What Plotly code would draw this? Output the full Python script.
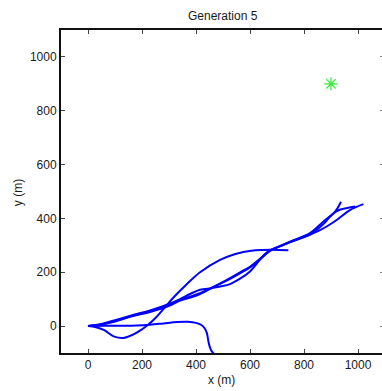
import plotly.graph_objects as go

# Trajectories of the current generation (metres)
path1_x = [0, 30, 60, 95, 131, 168, 200, 217, 250, 285, 320, 360, 415, 489, 540, 575, 620, 680, 742]
path1_y = [0, -4, -15, -38, -44, -31, -12, 0, 30, 70, 110, 150, 200, 246, 266, 275, 282, 284, 282]

path2_x = [0, 60, 120, 180, 230, 280, 330, 370, 400, 420, 432, 440, 444, 447, 452, 458, 468, 480]
path2_y = [0, 1, 1, 2, 5, 10, 15, 16, 12, 4, -8, -25, -45, -62, -80, -93, -105, -120]

path3_x = [0, 50, 100, 170, 230, 300, 341, 380, 415, 458, 490, 526, 563, 600, 625, 650, 674, 710, 750, 810, 850, 884, 921, 970, 1020]
path3_y = [0, 8, 22, 42, 58, 82, 100, 120, 135, 141, 147, 156, 176, 203, 232, 262, 282, 296, 312, 335, 352, 370, 394, 431, 453]

path4_x = [0, 50, 100, 170, 230, 300, 341, 380, 415, 458, 526, 563, 600, 637, 674, 710, 750, 822, 871, 915, 937]
path4_y = [0, 6, 17, 38, 52, 75, 95, 106, 119, 141, 178, 200, 220, 250, 280, 297, 315, 345, 388, 425, 462]

path5_x = [0, 50, 100, 170, 230, 300, 341, 380, 415, 458, 526, 563, 600, 637, 674, 710, 750, 822, 871, 895, 915, 935, 960, 990]
path5_y = [0, 7, 19, 40, 55, 78, 98, 110, 122, 143, 175, 196, 218, 248, 279, 296, 313, 340, 378, 405, 423, 433, 439, 444]

paths = [(path1_x, path1_y), (path2_x, path2_y), (path3_x, path3_y),
         (path4_x, path4_y), (path5_x, path5_y)]

# Goal position
goal_x = [900]
goal_y = [900]

x_ticks = [0, 200, 400, 600, 800, 1000]
y_ticks = [0, 200, 400, 600, 800, 1000]

FONT = "Liberation Sans, Arial, Helvetica, sans-serif"
TXT = "#1a1a1a"

fig = go.Figure()
for px, py in paths:
    fig.add_trace(go.Scatter(
        x=px, y=py, mode="lines",
        line=dict(color="#0000ff", width=2, shape="spline", smoothing=1.0),
        showlegend=False, hoverinfo="skip"))

fig.add_trace(go.Scatter(
    x=goal_x, y=goal_y, mode="markers",
    marker=dict(symbol="asterisk-open", size=11, color="#33ee33",
                line=dict(color="#33ee33", width=1.2)),
    showlegend=False, hoverinfo="skip"))

# helper trace so the right-hand tick axis is drawn
fig.add_trace(go.Scatter(x=[None], y=[None], yaxis="y2", showlegend=False,
                         hoverinfo="skip"))

fig.update_layout(
    width=382, height=391,
    margin=dict(l=61, r=0, t=30, b=38),
    paper_bgcolor="white", plot_bgcolor="white",
    font=dict(family=FONT, size=12, color=TXT),
    xaxis=dict(range=[-100, 1088.9], tickvals=x_ticks, ticks="inside",
               ticklen=4, tickcolor="#444", showgrid=False, zeroline=False,
               showline=True, linecolor="#111", linewidth=2, mirror="ticks",
               tickfont=dict(family=FONT, size=12, color=TXT)),
    yaxis=dict(range=[-100, 1100], tickvals=y_ticks, ticks="inside",
               ticklen=4, tickcolor="#444", showgrid=False, zeroline=False,
               showline=True, linecolor="#111", linewidth=2, mirror=False,
               tickfont=dict(family=FONT, size=12, color=TXT)),
    yaxis2=dict(range=[-100, 1100], tickvals=y_ticks, ticks="inside",
                ticklen=2, tickcolor="#888", overlaying="y", side="right",
                anchor="x", showgrid=False, zeroline=False, showline=False,
                showticklabels=False),
    annotations=[
        dict(text="Generation 5", x=0.505, y=1.043, xref="paper", yref="paper",
             showarrow=False, xanchor="center", yanchor="middle",
             font=dict(family=FONT, size=12, color=TXT)),
        dict(text="x (m)", x=0.501, y=-0.0836, xref="paper", yref="paper",
             showarrow=False, xanchor="center", yanchor="middle",
             font=dict(family=FONT, size=12, color=TXT)),
        dict(text="y (m)", x=-0.134, y=0.498, xref="paper", yref="paper",
             showarrow=False, xanchor="center", yanchor="middle",
             textangle=-90, font=dict(family=FONT, size=12, color=TXT)),
    ],
)

fig.write_html("out.html")
